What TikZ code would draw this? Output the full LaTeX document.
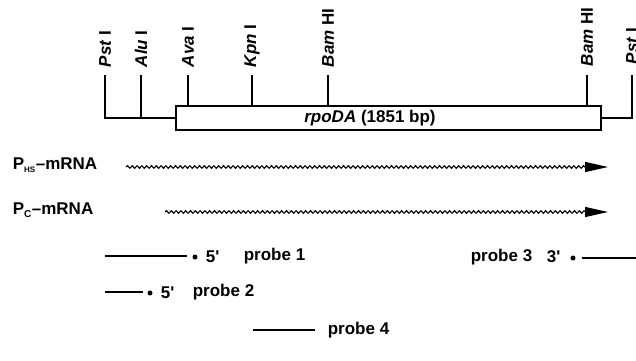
\documentclass[tikz,border=0pt]{standalone}
\usepackage{fontspec}
\setmainfont{Liberation Sans}
\usetikzlibrary{decorations.pathmorphing,arrows.meta}
\begin{document}
\begin{tikzpicture}[x=1pt,y=-1pt,
  line width=1.7pt,
  lbl/.style={font=\fontsize{17}{20}\selectfont\bfseries, inner sep=0pt},
  site/.style={lbl, rotate=90, anchor=west},
  mrna/.style={decorate, decoration={snake, amplitude=1.3pt, segment length=4.8pt, post length=22pt},
    -{Triangle[length=23pt,width=10pt]}, line width=1.1pt},
  probeline/.style={line width=1.3pt},
  endmark/.style={circle, fill, inner sep=0pt, minimum size=5pt}
]
\useasboundingbox (0,0) rectangle (636,360);

% gene box
\node[draw, minimum width=425pt, minimum height=24pt, inner sep=0pt] (gene) at (388.5,118) {};
\node[lbl] (genelbl) at (370,118) {\textit{rpoDA} (1851 bp)};

% restriction sites: tick tops
\coordinate (pstL) at (105,75);
\coordinate (alu) at (141,75);
\coordinate (ava) at (188,75);
\coordinate (kpn) at (252,75);
\coordinate (bamL) at (328,75);
\coordinate (bamR) at (587,75);
\coordinate (pstR) at (632,75);

\draw (pstL) |- (gene.west);
\draw (alu) -- (alu |- gene.west);
\draw (ava) -- (ava |- gene.north);
\draw (kpn) -- (kpn |- gene.north);
\draw (bamL) -- (bamL |- gene.north);
\draw (bamR) -- (bamR |- gene.north);
\draw (pstR) |- (gene.east);

\node[site] (lpst) at ([yshift=7pt]pstL) {\textit{Pst} I};
\node[site] (lalu) at ([yshift=7pt]alu) {\textit{Alu} I};
\node[site] (lava) at ([yshift=7pt]ava) {\textit{Ava} I};
\node[site] (lkpn) at ([yshift=7pt]kpn) {\textit{Kpn} I};
\node[site] (lbamL) at ([yshift=7pt]bamL) {\textit{Bam} HI};
\node[site] (lbamR) at ([yshift=8pt]bamR) {\textit{Bam} HI};
\node[site] (lpstR) at ([yshift=10pt]pstR) {\textit{Pst} I};

% transcripts
\node[lbl, anchor=west] (phs) at (12,165) {P\textsubscript{\fontsize{8}{8}\selectfont HS}–mRNA};
\node[lbl, anchor=west] (pc) at (12,210) {P\textsubscript{\fontsize{10}{10}\selectfont C}–mRNA};
\coordinate (w1s) at (126,167);
\coordinate (w1e) at (608,167);
\coordinate (w2s) at (165,212);
\coordinate (w2e) at (608,212);
\draw[mrna] (w1s) -- (w1e);
\draw[mrna] (w2s) -- (w2e);

% probe 1
\coordinate (p1s) at (105,256);
\coordinate (p1e) at (187,256);
\node[endmark] (p1d) at (195,257) {};
\draw[probeline] (p1s) -- (p1e);
\node[lbl, anchor=west] (p1end) at (205,257) {5\textquotesingle};
\node[lbl, anchor=west] (p1lbl) at (243,256) {probe 1};

% probe 2
\coordinate (p2s) at (105,292);
\coordinate (p2e) at (143,292);
\node[endmark] (p2d) at (150,293) {};
\draw[probeline] (p2s) -- (p2e);
\node[lbl, anchor=west] (p2end) at (160,293) {5\textquotesingle};
\node[lbl, anchor=west] (p2lbl) at (192,292) {probe 2};

% probe 3
\node[lbl, anchor=west] (p3lbl) at (470,257) {probe 3};
\node[lbl, anchor=west] (p3end) at (546,257) {3\textquotesingle};
\node[endmark] (p3d) at (573,258) {};
\coordinate (p3s) at (582,258);
\coordinate (p3e) at (636,258);
\draw[probeline] (p3s) -- (p3e);

% probe 4
\coordinate (p4s) at (253,330);
\coordinate (p4e) at (315,330);
\draw[probeline] (p4s) -- (p4e);
\node[lbl, anchor=west] (p4lbl) at (327,330) {probe 4};
\end{tikzpicture}
\end{document}
